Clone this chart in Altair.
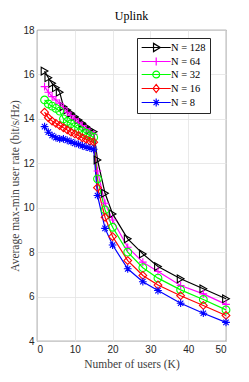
import altair as alt
import pandas as pd

K_values = [2, 3, 4, 5, 6, 7, 8, 9, 10, 11, 12, 13, 14, 15, 16, 18, 20, 24, 28, 32, 38, 44, 50]
rate_N128 = [16.15, 15.85, 15.6, 15.4, 15.2, 14.55, 14.4, 14.25, 14.1, 13.95, 13.8, 13.65, 13.5, 13.42,
             12.15, 10.65, 9.72, 8.6, 7.92, 7.35, 6.8, 6.35, 5.9]
rate_N64 = [15.45, 15.2, 15.0, 14.85, 14.7, 14.5, 14.3, 14.15, 14.0, 13.85, 13.7, 13.55, 13.42, 13.3,
            11.65, 10.2, 9.45, 8.22, 7.55, 7.13, 6.5, 6.12, 5.65]
rate_N32 = [14.85, 14.67, 14.57, 14.47, 14.35, 14.0, 13.88, 13.78, 13.65, 13.55, 13.45, 13.35, 13.25, 13.17,
            11.3, 9.9, 9.12, 8.0, 7.3, 6.83, 6.3, 5.87, 5.4]
rate_N16 = [14.3, 14.05, 13.9, 13.8, 13.7, 13.6, 13.5, 13.4, 13.32, 13.25, 13.15, 13.08, 13.0, 12.95,
            10.9, 9.57, 8.7, 7.62, 6.95, 6.52, 6.04, 5.6, 5.15]
rate_N8 = [13.65, 13.4, 13.25, 13.15, 13.1, 13.1, 13.03, 12.97, 12.9, 12.85, 12.78, 12.73, 12.68, 12.63,
           10.55, 9.07, 8.32, 7.25, 6.67, 6.27, 5.7, 5.25, 4.84]

series_names = ["N = 128", "N = 64", "N = 32", "N = 16", "N = 8"]
series_values = [rate_N128, rate_N64, rate_N32, rate_N16, rate_N8]
series_colors = ["#000000", "#ff00ff", "#00ff00", "#ff0000", "#0000ff"]

x_ticks = [0, 10, 20, 30, 40, 50]
y_ticks = [4, 6, 8, 10, 12, 14, 16, 18]

marker_paths = [
    "triangle-right",
    "M-1,0H1M0,-1V1",
    "circle",
    "diamond",
    "M-1,0H1M0,-1V1M-0.7,-0.7L0.7,0.7M-0.7,0.7L0.7,-0.7",
]
# legend symbols: a line segment with the marker in its middle (unit = sqrt(size)/2)
legend_paths = [
    "M-1,0H5M1.45,-0.85L2.85,0L1.45,0.85Z",
    "M-1,0H5M2,-0.8V0.8",
    "M-1,0H5M1.3,0A0.7,0.7,0,1,0,2.7,0A0.7,0.7,0,1,0,1.3,0",
    "M-1,0H5M1.35,0L2,-0.85L2.65,0L2,0.85Z",
    "M-1,0H5M1.2,0H2.8M2,-0.8V0.8M1.45,-0.55L2.55,0.55M1.45,0.55L2.55,-0.55",
]

rows = []
for name, vals in zip(series_names, series_values):
    for k, v in zip(K_values, vals):
        rows.append({"series": name, "K": k, "rate": v})
df = pd.DataFrame(rows)

serif = "Liberation Serif"
sans = "Liberation Sans"

x_enc = alt.X("K:Q", scale=alt.Scale(domain=[0, 50], nice=False),
              axis=alt.Axis(values=x_ticks, title="Number of users (K)", grid=True))
y_enc = alt.Y("rate:Q", scale=alt.Scale(domain=[4, 18], nice=False),
              axis=alt.Axis(values=y_ticks, title="Average max-min user rate (bit/s/Hz)", grid=True))

color_scale = alt.Scale(domain=series_names, range=series_colors)

lines = alt.Chart(df).mark_line(strokeWidth=1.2).encode(
    x=x_enc, y=y_enc,
    color=alt.Color("series:N", scale=color_scale, legend=None, sort=series_names),
    order=alt.Order("K:Q"),
)

points = alt.Chart(df).mark_point(filled=False, size=60, strokeWidth=1.1, opacity=1).encode(
    x=x_enc, y=y_enc,
    color=alt.Color("series:N", scale=color_scale, legend=None, sort=series_names),
    shape=alt.Shape("series:N", scale=alt.Scale(domain=series_names, range=marker_paths), legend=None),
)

legend_layer = alt.Chart(df).mark_point(filled=False, opacity=0, strokeWidth=1.2).encode(
    x=x_enc, y=y_enc,
    color=alt.Color("series:N", scale=color_scale, sort=series_names,
                    legend=alt.Legend(title=None, orient="none", legendX=100, legendY=8)),
    shape=alt.Shape("series:N", scale=alt.Scale(domain=series_names, range=legend_paths),
                    legend=alt.Legend(title=None, orient="none", legendX=100, legendY=8)),
)

chart = alt.layer(lines, points, legend_layer).resolve_scale(
    color="independent", shape="independent"
).properties(
    width=189, height=311,
    title=alt.TitleParams("Uplink", font=serif, fontSize=12, fontWeight="normal", color="#000000", offset=2),
    autosize=alt.AutoSizeParams(type="none"),
    padding={"left": 29, "top": 22, "right": 8, "bottom": 30},
).configure_view(
    stroke="#262626", strokeWidth=0.8
).configure_axis(
    domain=False, ticks=False, gridColor="#e3e3e3", gridWidth=0.8,
    labelFont=sans, labelFontSize=10, labelColor="#262626", labelPadding=3,
    titleFont=serif, titleFontSize=11.5, titleColor="#404040", titleFontWeight="normal",
).configure_axisY(titlePadding=2).configure_axisX(titlePadding=4).configure_legend(
    labelFont=serif, labelFontSize=10.5, labelColor="#000000",
    symbolSize=94, symbolStrokeWidth=1.2, symbolOpacity=1,
    strokeColor="#262626", fillColor="#ffffff", padding=4, rowPadding=0, labelOffset=19,
    symbolFillColor="transparent",
)

chart.save("out.html", embed_options={"renderer": "svg", "actions": False})
